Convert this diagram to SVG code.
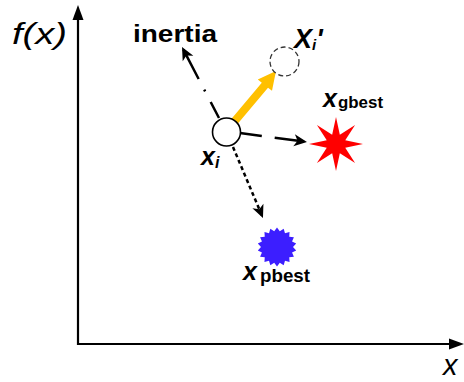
<svg xmlns="http://www.w3.org/2000/svg" width="464" height="382" viewBox="0 0 464 382">
<style>
.ax{stroke:#000;stroke-width:2.2;fill:none}
.con{stroke:#000;stroke-width:2.5;fill:none}
.lbl{font-family:"Liberation Sans",Arial,sans-serif;fill:#000}
.bi{font-weight:bold;font-style:italic}
.b{font-weight:bold}
</style>
<defs>
<marker id="ah" markerUnits="userSpaceOnUse" markerWidth="16" markerHeight="14" viewBox="-14 -7 16 14" refX="-3" refY="0" orient="auto">
<path d="M0,0 L-13,-6 L-9.5,0 L-13,6 Z" fill="#000"/>
</marker>
</defs>
<rect width="464" height="382" fill="#fff"/>
<g id="axes">
<line class="ax" x1="78" y1="345" x2="78" y2="18"/>
<polygon points="78,5 72.5,20 83.5,20" fill="#000"/>
<line class="ax" x1="77" y1="344" x2="452" y2="344"/>
<polygon points="464,344 449,338.5 449,349.5" fill="#000"/>
<text class="lbl" x="12" y="44" font-size="30" font-style="italic" textLength="55" lengthAdjust="spacingAndGlyphs">f(x)</text>
<text class="lbl" x="443" y="375" font-size="29" font-style="italic">x</text>
</g>
<g id="connectors">
<path class="con" d="M219,118 L183.4,49.7" stroke-dasharray="18 12 2 12 60" marker-end="url(#ah)"/>
<path class="con" d="M240,133 L304,141.6" stroke-dasharray="22 13 60" marker-end="url(#ah)"/>
<path class="con" d="M233,147 L261.8,215.2" stroke-dasharray="4 3" marker-end="url(#ah)"/>
<polygon id="move" points="230.9,119.5 261.8,82.7 257.8,79.6 276,71 272,90.8 268,87.7 237.1,124.5" fill="#FFC000"/>
</g>
<g id="inertia">
<text class="lbl b" x="133" y="42" font-size="23" textLength="84" lengthAdjust="spacingAndGlyphs">inertia</text>
</g>
<g id="xi">
<circle cx="226.5" cy="132" r="14" fill="#fff" stroke="#000" stroke-width="1.6"/>
<text class="lbl bi" x="201" y="165" font-size="25">x<tspan font-size="16" dy="3">i</tspan></text>
</g>
<g id="xi-new">
<circle cx="284.5" cy="61.5" r="14.5" fill="#fff" stroke="#333" stroke-width="1.3" stroke-dasharray="5 3"/>
<text class="lbl bi" x="294" y="48" font-size="27">X<tspan font-size="15" dy="2">i</tspan><tspan dy="-2">'</tspan></text>
</g>
<g id="gbest">
<polygon points="336,117 339.83,134.76 355.09,124.91 345.24,140.17 363,144 345.24,147.83 355.09,163.09 339.83,153.24 336,171 332.17,153.24 316.91,163.09 326.76,147.83 309,144 326.76,140.17 316.91,124.91 332.17,134.76" fill="#FF0000"/>
<text class="lbl bi" x="323" y="107" font-size="25">x</text>
<text class="lbl b" x="338" y="108" font-size="16" textLength="45" lengthAdjust="spacingAndGlyphs">gbest</text>
</g>
<g id="pbest">
<polygon points="293,247 296.2,250.39 292.04,252.47 293.89,256.75 289.26,257.28 289.53,261.94 285,260.86 283.67,265.32 279.78,262.76 277,266.5 274.22,262.76 270.33,265.32 269,260.86 264.47,261.94 264.74,257.28 260.11,256.75 261.96,252.47 257.8,250.39 261,247 257.8,243.61 261.96,241.53 260.11,237.25 264.74,236.72 264.47,232.06 269,233.14 270.33,228.68 274.22,231.24 277,227.5 279.78,231.24 283.67,228.68 285,233.14 289.53,232.06 289.26,236.72 293.89,237.25 292.04,241.53 296.2,243.61" fill="#3C1EFF"/>
<text class="lbl bi" x="243" y="280" font-size="25">x</text>
<text class="lbl b" x="260" y="282" font-size="19" textLength="50" lengthAdjust="spacingAndGlyphs">pbest</text>
</g>
</svg>
